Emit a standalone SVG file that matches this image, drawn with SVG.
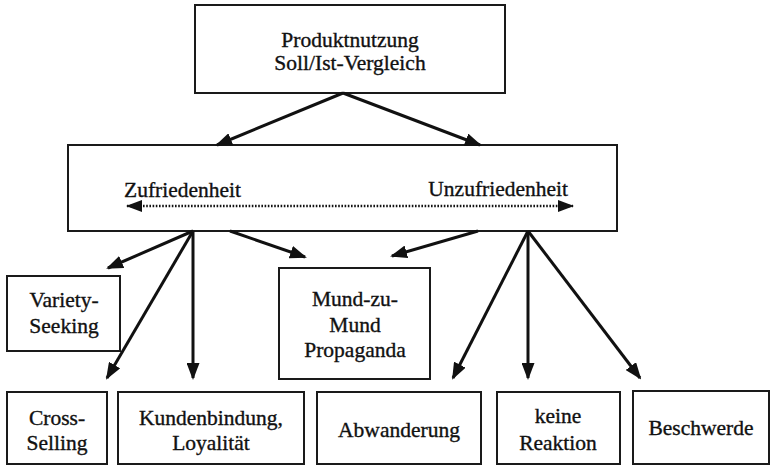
<svg xmlns="http://www.w3.org/2000/svg" width="772" height="466" viewBox="0 0 772 466">
  <style>
    .box { fill: #ffffff; stroke: #1a1a1a; stroke-width: 2; }
    .lbl { font-family: "Liberation Serif", "Times New Roman", serif; font-size: 21.5px; fill: #111111; text-anchor: middle; stroke: #111111; stroke-width: 0.35; }
    .arr { stroke: #111111; stroke-width: 3; fill: none; marker-end: url(#head); }
    .dots { stroke: #111111; stroke-width: 2.6; stroke-dasharray: 1.6 1.6; fill: none; marker-start: url(#small); marker-end: url(#small); }
  </style>
  <defs>
    <marker id="head" markerUnits="userSpaceOnUse" markerWidth="17" markerHeight="13" refX="15" refY="6.5" orient="auto">
      <path d="M0,0 L17,6.5 L0,13 Z" fill="#111111"/>
    </marker>
    <marker id="small" markerUnits="userSpaceOnUse" markerWidth="16" markerHeight="12" refX="15" refY="6" orient="auto-start-reverse">
      <path d="M0,0 L16,6 L0,12 Z" fill="#111111"/>
    </marker>
  </defs>
  <rect width="772" height="466" fill="#ffffff"/>

  <g id="produktnutzung">
    <rect class="box" x="195" y="5" width="310" height="88"/>
    <text class="lbl" x="350" y="47">Produktnutzung</text>
    <text class="lbl" x="350" y="70">Soll/Ist-Vergleich</text>
  </g>

  <g id="zufriedenheit">
    <rect class="box" x="68" y="145" width="549" height="86"/>
    <text class="lbl" x="124" y="197" style="text-anchor:start">Zufriedenheit</text>
    <text class="lbl" x="568" y="196" style="text-anchor:end">Unzufriedenheit</text>
  </g>

  <g id="variety-seeking">
    <rect class="box" x="7" y="276" width="113" height="75"/>
    <text class="lbl" x="64" y="307">Variety-</text>
    <text class="lbl" x="64" y="333">Seeking</text>
  </g>

  <g id="mund-zu-mund">
    <rect class="box" x="279" y="268" width="151" height="111"/>
    <text class="lbl" x="355" y="306">Mund-zu-</text>
    <text class="lbl" x="355" y="332">Mund</text>
    <text class="lbl" x="355" y="357">Propaganda</text>
  </g>

  <g id="cross-selling">
    <rect class="box" x="7" y="392" width="100" height="72"/>
    <text class="lbl" x="57" y="425">Cross-</text>
    <text class="lbl" x="57" y="450">Selling</text>
  </g>

  <g id="kundenbindung">
    <rect class="box" x="118" y="392" width="186" height="72"/>
    <text class="lbl" x="211" y="425">Kundenbindung,</text>
    <text class="lbl" x="211" y="450">Loyalität</text>
  </g>

  <g id="abwanderung">
    <rect class="box" x="317" y="392" width="164" height="72"/>
    <text class="lbl" x="399" y="437">Abwanderung</text>
  </g>

  <g id="keine-reaktion">
    <rect class="box" x="497" y="392" width="123" height="72"/>
    <text class="lbl" x="558" y="423">keine</text>
    <text class="lbl" x="558" y="450">Reaktion</text>
  </g>

  <g id="beschwerde">
    <rect class="box" x="633" y="391" width="136" height="73"/>
    <text class="lbl" x="701" y="435">Beschwerde</text>
  </g>

  <!-- drawn last so the dotted scale stays on top of the box fill -->
  <g id="connectors">
    <line class="arr" x1="343" y1="93" x2="217" y2="145"/>
    <line class="arr" x1="343" y1="93" x2="480" y2="145"/>
    <line class="dots" x1="127" y1="206" x2="573" y2="206"/>
    <line class="arr" x1="193" y1="231" x2="108" y2="268"/>
    <line class="arr" x1="193" y1="231" x2="107" y2="378"/>
    <line class="arr" x1="193" y1="231" x2="193" y2="378"/>
    <line class="arr" x1="230" y1="231" x2="305" y2="257"/>
    <line class="arr" x1="478" y1="231" x2="392" y2="256"/>
    <line class="arr" x1="528" y1="231" x2="453" y2="378"/>
    <line class="arr" x1="528" y1="231" x2="528" y2="378"/>
    <line class="arr" x1="528" y1="231" x2="640" y2="378"/>
  </g>
</svg>
